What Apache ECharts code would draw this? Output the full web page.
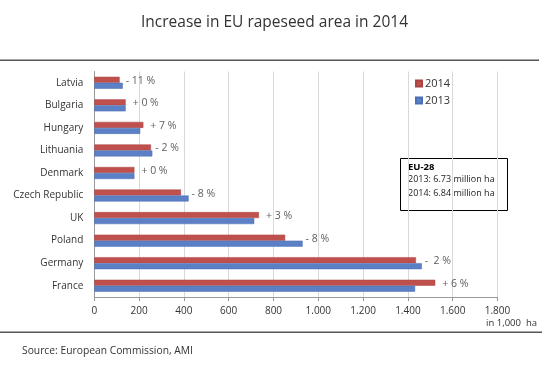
<!DOCTYPE html>
<html>
<head>
<meta charset="utf-8">
<script src="https://cdn.jsdelivr.net/npm/echarts@6/dist/echarts.min.js"></script>
<style>
html,body{margin:0;padding:0;background:#fff;}
#c{width:549px;height:372px;}
</style>
</head>
<body>
<div id="c"></div>
<script>
var categories = ['Latvia','Bulgaria','Hungary','Lithuania','Denmark','Czech Republic','UK','Poland','Germany','France'];
var area2014 = [113, 140, 219, 253, 179, 387, 735, 852, 1436, 1522];
var area2013 = [127, 140, 205, 259, 179, 421, 714, 930, 1462, 1432];
var changeLabels = ['- 11 %','+ 0 %','+ 7 %','- 2 %','+ 0 %','- 8 %','+ 3 %','- 8 %','-  2 %','+ 6 %'];
var xTicks = [0, 200, 400, 600, 800, 1000, 1200, 1400, 1600, 1800];
var seriesNames = ['2014','2013'];

var FONT = '"Open Sans", sans-serif';
var RED = '#c0504d', BLUE = '#5b80c6';

var labelPoints = categories.map(function (c, i) {
  var a = area2014[i], b = area2013[i];
  return {
    value: [Math.max(a, b), c],
    label: { formatter: changeLabels[i], distance: a >= b ? 7 : 3 }
  };
});

function fmt(v) {
  if (v >= 1000) return Math.floor(v / 1000) + '.' + String(v % 1000).padStart(3, '0');
  return String(v);
}

var chart = echarts.init(document.getElementById('c'), null, {renderer: 'canvas'});
chart.setOption({
  animation: false,
  backgroundColor: '#fff',
  textStyle: { fontFamily: FONT },
  title: {
    text: 'Increase in EU rapeseed area in 2014',
    left: 'center', top: 10,
    textStyle: { fontFamily: FONT, fontSize: 15.5, fontWeight: 'normal', color: '#333' }
  },
  legend: {
    data: seriesNames,
    orient: 'vertical',
    left: 410, top: 73,
    itemWidth: 6, itemHeight: 6, itemGap: 6,
    icon: 'rect',
    textStyle: { fontFamily: FONT, fontSize: 11, color: '#333', padding: [0,0,0,-2] }
  },
  grid: { left: 94.3, right: 51.5, top: 71.5, bottom: 75, containLabel: false },
  xAxis: {
    type: 'value', min: xTicks[0], max: xTicks[xTicks.length - 1], interval: xTicks[1] - xTicks[0],
    axisLine: { show: true, lineStyle: { color: '#999', width: 1 } },
    axisTick: { show: true, length: 4, lineStyle: { color: '#999' } },
    splitLine: { show: true, lineStyle: { color: '#d9d9d9', width: 1 } },
    axisLabel: { formatter: fmt, fontFamily: FONT, fontSize: 10, color: '#333', margin: 9 }
  },
  yAxis: {
    type: 'category', data: categories, inverse: true,
    axisLine: { show: true, lineStyle: { color: '#999' } },
    axisTick: { show: false },
    axisLabel: { fontFamily: FONT, fontSize: 10, color: '#333', margin: 11 }
  },
  series: [
    { name: seriesNames[0], type: 'bar', data: area2014, barWidth: 6, barGap: '0%',
      itemStyle: { color: RED, borderColor: '#a94442', borderWidth: 0.5 } },
    { name: seriesNames[1], type: 'bar', data: area2013, barWidth: 6, barGap: '0%',
      itemStyle: { color: BLUE, borderColor: '#4a6fb5', borderWidth: 0.5 } },
    { type: 'scatter', data: labelPoints, symbolSize: 0, silent: true,
      label: { show: true, position: 'right', offset: [0, -2], fontFamily: FONT, fontSize: 10.5, color: '#333' } }
  ],
  graphic: [
    { type: 'rect', shape: { x: 0, y: 59.5, width: 539, height: 1.5 }, style: { fill: '#555' } },
    { type: 'rect', shape: { x: 0, y: 331.5, width: 542, height: 1.5 }, style: { fill: '#555' } },
    { type: 'text', right: 12, top: 318, style: { text: 'in 1,000  ha', font: '9.5px ' + FONT, fill: '#333' } },
    { type: 'text', left: 22, top: 346, style: { text: 'Source: European Commission, AMI', font: '10.3px ' + FONT, fill: '#333' } },
    { type: 'rect', shape: { x: 400.5, y: 158.5, width: 107, height: 52 }, style: { fill: '#fff', stroke: '#000', lineWidth: 1 } },
    { type: 'text', left: 408, top: 162.5, style: { text: 'EU-28', font: 'bold 9.5px ' + FONT, fill: '#000' } },
    { type: 'text', left: 408, top: 175, style: { text: '2013: 6.73 million ha', font: '9px ' + FONT, fill: '#222' } },
    { type: 'text', left: 408, top: 188.5, style: { text: '2014: 6.84 million ha', font: '9px ' + FONT, fill: '#222' } }
  ]
});
</script>
</body>
</html>
